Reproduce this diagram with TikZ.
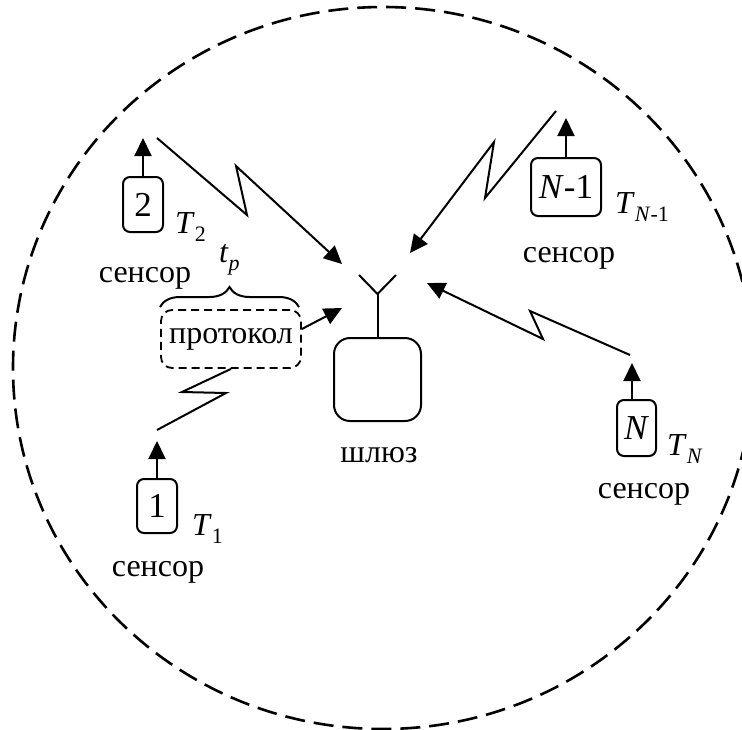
\documentclass[tikz,border=0pt]{standalone}
\usepackage{fontspec}
\setmainfont{Liberation Serif}
\usetikzlibrary{arrows.meta,decorations.pathreplacing}

% lowered subscript in text italics
\newcommand{\lowsub}[1]{\raisebox{-0.28em}{\fontsize{22}{25}\selectfont #1}}

\tikzset{
  wire/.style={line width=2pt},
  tipped/.style={wire, -{Triangle[length=18pt,width=17pt]}},
  sensorbox/.style={draw, line width=2pt, rounded corners=7pt, inner sep=0pt,
    font=\fontsize{35}{40}\selectfont},
  gatebox/.style={draw, line width=2pt, rounded corners=16pt, inner sep=0pt,
    minimum width=87pt, minimum height=83pt},
  protobox/.style={draw, line width=1.8pt, dash pattern=on 8pt off 5pt,
    rounded corners=11pt, inner sep=0pt, minimum width=140pt, minimum height=58pt},
  lbl/.style={inner sep=0pt, font=\fontsize{32}{38}\selectfont},
  zone/.style={line width=2.6pt, dash pattern=on 20pt off 9pt}
}

\begin{document}
\begin{tikzpicture}[x=1pt, y=-1pt]
\useasboundingbox (0,0) rectangle (742,729);

% coverage zone
\draw[zone] (383,368) ellipse [x radius=370pt, y radius=361pt];

% gateway with antenna
\node[gatebox] (gw) at (377.5,379.5) {};
\coordinate (ant) at (377.5,294);
\coordinate (antL) at (359,275);
\coordinate (antR) at (396,275);
\draw[wire] (gw.north) -- (ant);
\draw[wire] (antL) -- (ant) -- (antR);
\node[lbl, anchor=base] (gwlbl) at (379,462) {шлюз};

% sensors
\node[sensorbox, minimum width=40pt, minimum height=55pt] (s2) at (143,204.5) {2};
\node[sensorbox, minimum width=40pt, minimum height=54pt] (s1) at (157,506) {1};
\node[sensorbox, minimum width=70pt, minimum height=58pt] (sn1) at (566,187) {\textit{N}-1};
\node[sensorbox, minimum width=39pt, minimum height=56pt] (sn) at (636.5,428) {\textit{N}};

% sensor outputs
\coordinate (s2up) at (143,138);
\coordinate (s1up) at (157,441);
\coordinate (sn1up) at (566,118);
\coordinate (snup) at (632,363);
\draw[tipped] (s2.north) -- (s2up);
\draw[tipped] (s1.north) -- (s1up);
\draw[tipped] (sn1.north) -- (sn1up);
\draw[tipped] (sn.north -| snup) -- (snup);

% period labels
\node[lbl, anchor=base west] (T2) at (175,233) {\textit{T}\lowsub{2}};
\node[lbl, anchor=base west] (T1) at (192,535) {\textit{T}\lowsub{1}};
\node[lbl, anchor=base west] (Tn1) at (615,213) {\textit{T}\lowsub{\textit{N}-1}};
\node[lbl, anchor=base west] (Tn) at (667,455) {\textit{T}\lowsub{\textit{N}}};

% sensor captions
\node[lbl, anchor=base] (c2) at (145,282) {сенсор};
\node[lbl, anchor=base] (c1) at (158,576) {сенсор};
\node[lbl, anchor=base] (cn1) at (569,262) {сенсор};
\node[lbl, anchor=base] (cn) at (644,498) {сенсор};

% protocol block with its duration
\node[protobox, lbl] (proto) at (231,339) {протокол};
\draw[wire, decorate, decoration={brace, amplitude=20pt}] (160,307) -- (299,307);
\node[lbl, anchor=base west] (tp) at (219,262) {\textit{t}\lowsub{\textit{p}}};

% radio links to the gateway
\coordinate (g2) at (342,264);
\coordinate (gn1) at (410,253);
\coordinate (gn) at (427,283);
\coordinate (gp) at (342,308);

\coordinate (z2a) at (157,138);
\coordinate (z2b) at (247,215);
\coordinate (z2c) at (236,166);
\draw[tipped] (z2a) -- (z2b) -- (z2c) -- (g2);

\coordinate (zn1a) at (556,111);
\coordinate (zn1b) at (485,198);
\coordinate (zn1c) at (494,142);
\draw[tipped] (zn1a) -- (zn1b) -- (zn1c) -- (gn1);

\coordinate (zna) at (630,355);
\coordinate (znb) at (530,311);
\coordinate (znc) at (543,339);
\draw[tipped] (zna) -- (znb) -- (znc) -- (gn);

\coordinate (z1a) at (157,430);
\coordinate (z1b) at (226,393);
\coordinate (z1c) at (182,392);
\draw[wire] (z1a) -- (z1b) -- (z1c) -- (proto.south);

\draw[tipped] (proto.east) ++(0,-10) -- (gp);
\end{tikzpicture}
\end{document}
